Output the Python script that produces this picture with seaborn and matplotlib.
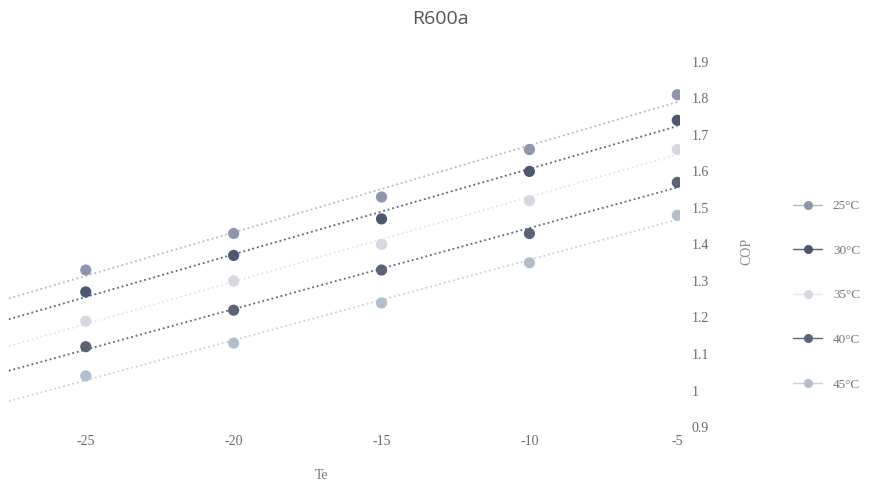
import numpy as np
import pandas as pd
import matplotlib
matplotlib.use("Agg")
import matplotlib.pyplot as plt
from matplotlib.lines import Line2D
import seaborn as sns

# Evaporating temperature Te (°C) and COP for each condensing temperature
te = [-25, -20, -15, -10, -5]
series_labels = ["25°C", "30°C", "35°C", "40°C", "45°C"]
cop_25 = [1.33, 1.43, 1.53, 1.66, 1.81]
cop_30 = [1.27, 1.37, 1.47, 1.60, 1.74]
cop_35 = [1.19, 1.30, 1.40, 1.52, 1.66]
cop_40 = [1.12, 1.22, 1.33, 1.43, 1.57]
cop_45 = [1.04, 1.13, 1.24, 1.35, 1.48]
y_ticks = [0.9, 1.0, 1.1, 1.2, 1.3, 1.4, 1.5, 1.6, 1.7, 1.8, 1.9]
y_tick_labels = ["0.9", "1", "1.1", "1.2", "1.3", "1.4", "1.5", "1.6", "1.7", "1.8", "1.9"]
x_ticks = [-25, -20, -15, -10, -5]

marker_colors = ["#8d96aa", "#4d5870", "#d5d8e0", "#5b6377", "#b2bfcb"]
trend_colors = ["#b4b9c4", "#5a6479", "#e4e6ea", "#5e6679", "#c9d1d9"]

all_cop = [cop_25, cop_30, cop_35, cop_40, cop_45]
df = pd.DataFrame({
    "Te": te * len(series_labels),
    "COP": sum(all_cop, []),
    "Tc": np.repeat(series_labels, len(te)),
})

sns.set_theme(style="white")
plt.rcParams["font.family"] = ["Liberation Serif", "DejaVu Serif"]

fig = plt.figure(figsize=(8.8, 5.03), dpi=100)
ax = fig.add_axes([0.0, 0.151, 0.773, 0.726])

x_lo, x_hi = -27.9, -4.9

# Linear trend lines extended back to the left edge
for cop, col in zip(all_cop, trend_colors):
    k, b = np.polyfit(te, cop, 1)
    xs = np.array([-27.6, -5.0])
    ax.plot(xs, k * xs + b, linestyle=(0, (1, 1.6)), color=col, lw=1.3, zorder=1)

sns.scatterplot(data=df, x="Te", y="COP", hue="Tc", palette=marker_colors,
                s=65, edgecolor="none", legend=False, ax=ax, zorder=3)

ax.set_xlim(x_lo, x_hi)
ax.set_ylim(0.9, 1.9)
ax.set_xticks(x_ticks)
ax.set_xticklabels([str(t) for t in x_ticks], color="#6a6a6a", fontsize=10)
ax.yaxis.tick_right()
ax.yaxis.set_label_position("right")
ax.set_yticks(y_ticks)
ax.set_yticklabels(y_tick_labels, color="#6a6a6a", fontsize=10)
ax.tick_params(axis="x", pad=6, length=0)
ax.tick_params(axis="y", pad=8, length=0)
ax.set_xlabel("Te", color="#777777", fontsize=10, labelpad=10)
ax.xaxis.set_label_coords(0.473, -0.115)
ax.set_ylabel("COP", color="#8a8a8a", fontsize=10, labelpad=10)
ax.yaxis.set_label_coords(1.088, 0.48)
for sp in ax.spines.values():
    sp.set_visible(False)

fig.text(0.5, 0.962, "R600a", ha="center", va="center", fontsize=14,
         color="#555555", family=["Open Sans", "DejaVu Sans"])

handles = [Line2D([0], [0], color=tc, lw=1.0, marker="o", markersize=6.5,
                  markerfacecolor=mc, markeredgecolor="none")
           for mc, tc in zip(marker_colors, trend_colors)]
leg = fig.legend(handles, series_labels, loc="center left",
                 bbox_to_anchor=(0.888, 0.413), frameon=False,
                 fontsize=9.5, labelspacing=2.45, handlelength=2.2,
                 handletextpad=0.8)
for t in leg.get_texts():
    t.set_color("#777777")

fig.savefig("out.png", dpi=100, facecolor="white")
